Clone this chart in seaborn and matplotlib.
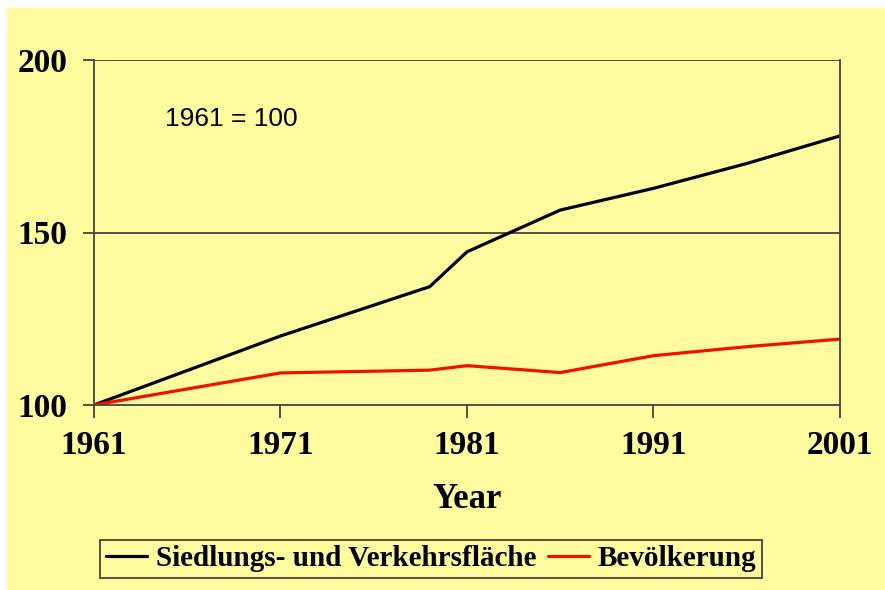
import pandas as pd
import matplotlib.pyplot as plt
import seaborn as sns
from matplotlib.patches import Rectangle

plt.switch_backend('Agg')
sns.set_theme(style="white")

# data (1961 = 100)
years = [1961, 1971, 1979, 1981, 1986, 1991, 1996, 2001]
flaeche = [100, 120, 134.3, 144.4, 156.5, 162.8, 170, 178]
bevoelkerung = [100, 109.3, 110.1, 111.4, 109.4, 114.3, 116.9, 119.1]
series_names = ['Siedlungs- und Verkehrsfläche', 'Bevölkerung']
x_ticks = [1961, 1971, 1981, 1991, 2001]
y_ticks = [100, 150, 200]

df = pd.DataFrame({
    'Year': years * 2,
    'value': flaeche + bevoelkerung,
    'series': [series_names[0]] * len(years) + [series_names[1]] * len(years),
})

yellow = '#FFFB9F'
fig = plt.figure(figsize=(8.85, 5.9), dpi=100)
fig.patch.set_facecolor('white')
fig.patches.append(Rectangle((7 / 885, 0), 1, 1 - 8 / 590, transform=fig.transFigure,
                             facecolor=yellow, edgecolor='none', zorder=-10))

ax = fig.add_axes([94 / 885, 1 - 405 / 590, (840 - 94) / 885, (405 - 60) / 590])
ax.set_facecolor(yellow)

sns.lineplot(data=df, x='Year', y='value', hue='series',
             palette={series_names[0]: 'black', series_names[1]: '#EE1100'},
             linewidth=2.3, ax=ax, legend=True)

ax.set_xlim(1961, 2001)
ax.set_ylim(100, 200)
ax.set_xticks(x_ticks)
ax.set_yticks(y_ticks)

serif = 'Liberation Serif'
for lab in ax.get_xticklabels() + ax.get_yticklabels():
    lab.set_fontfamily(serif)
    lab.set_fontweight('bold')
    lab.set_fontsize(24)
    lab.set_color('black')

ax.tick_params(axis='x', bottom=True, direction='out', length=9, width=1.2,
               color='#333333', pad=9)
ax.tick_params(axis='y', left=True, direction='out', length=8, width=1.2,
               color='#333333', pad=11)

for y in y_ticks[1:]:
    ax.axhline(y, color='#444444', linewidth=1.3, zorder=0)

for side in ['left', 'bottom', 'right']:
    ax.spines[side].set_color('#444444')
    ax.spines[side].set_linewidth(1.3)
ax.spines['top'].set_visible(False)

ax.set_ylabel('')
ax.set_xlabel('Year', fontfamily=serif, fontweight='bold', fontsize=25,
              labelpad=16, color='black')

ax.text(1964.8, 183, '1961 = 100', fontfamily='Liberation Sans', fontsize=19,
        va='center', ha='left', color='black')

handles, labels = ax.get_legend_handles_labels()
leg = ax.legend(handles, labels, loc='center', bbox_to_anchor=(431 / 885, 1 - 559 / 590),
                bbox_transform=fig.transFigure, ncol=2, frameon=True, fancybox=False,
                edgecolor='#333333', facecolor=yellow, framealpha=1,
                prop={'family': serif, 'weight': 'bold', 'size': 21},
                handlelength=1.4, handletextpad=0.3, columnspacing=0.4,
                borderpad=0.2, borderaxespad=0)
leg.get_frame().set_linewidth(1.2)
for t in leg.get_texts():
    t.set_color('black')

fig.savefig('out.png', dpi=100, facecolor=fig.get_facecolor())
